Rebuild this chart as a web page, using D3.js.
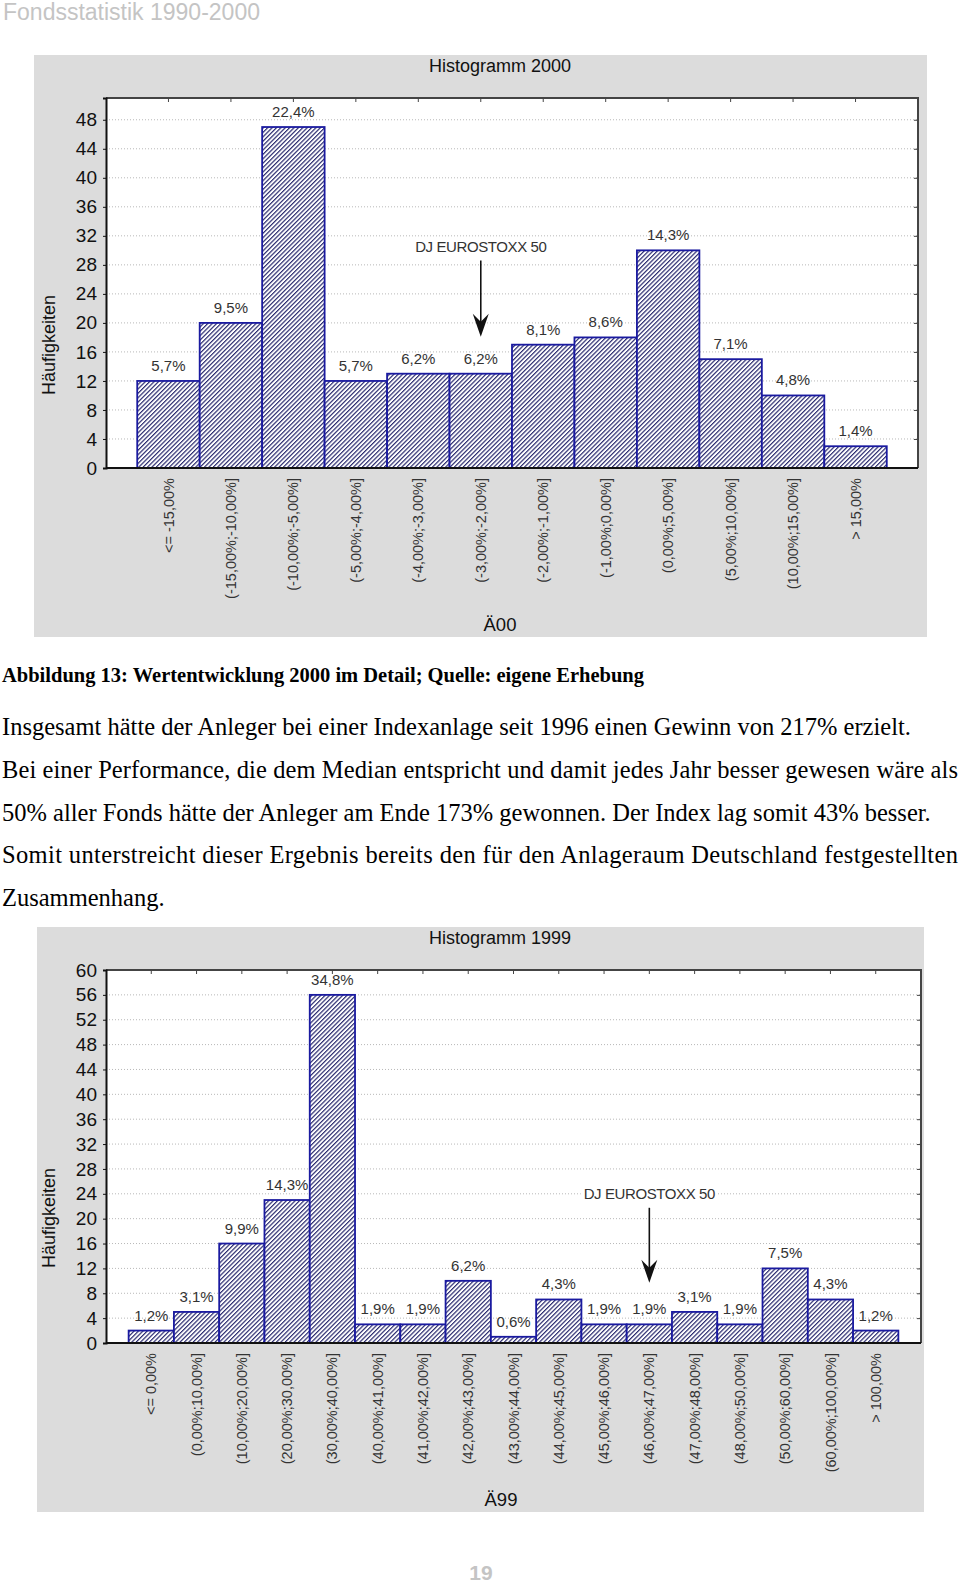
<!DOCTYPE html>
<html>
<head>
<meta charset="utf-8">
<script src="https://cdn.jsdelivr.net/npm/d3@7"></script>
<style>
  body { margin: 0; background: #fff; }
  svg { display: block; }
</style>
</head>
<body>
<div id="page"></div>
<script>
// ---- data ----
const bins2000 = ["<= -15,00%", "(-15,00%;-10,00%]", "(-10,00%;-5,00%]", "(-5,00%;-4,00%]",
  "(-4,00%;-3,00%]", "(-3,00%;-2,00%]", "(-2,00%;-1,00%]", "(-1,00%;0,00%]",
  "(0,00%;5,00%]", "(5,00%;10,00%]", "(10,00%;15,00%]", "> 15,00%"];
const counts2000 = [12, 20, 47, 12, 13, 13, 17, 18, 30, 15, 10, 3];
const shares2000 = ["5,7%", "9,5%", "22,4%", "5,7%", "6,2%", "6,2%", "8,1%", "8,6%", "14,3%", "7,1%", "4,8%", "1,4%"];
const yTicks2000 = [0, 4, 8, 12, 16, 20, 24, 28, 32, 36, 40, 44, 48];

const bins1999 = ["<= 0,00%", "(0,00%;10,00%]", "(10,00%;20,00%]", "(20,00%;30,00%]",
  "(30,00%;40,00%]", "(40,00%;41,00%]", "(41,00%;42,00%]", "(42,00%;43,00%]",
  "(43,00%;44,00%]", "(44,00%;45,00%]", "(45,00%;46,00%]", "(46,00%;47,00%]",
  "(47,00%;48,00%]", "(48,00%;50,00%]", "(50,00%;60,00%]", "(60,00%;100,00%]", "> 100,00%"];
const counts1999 = [2, 5, 16, 23, 56, 3, 3, 10, 1, 7, 3, 3, 5, 3, 12, 7, 2];
const shares1999 = ["1,2%", "3,1%", "9,9%", "14,3%", "34,8%", "1,9%", "1,9%", "6,2%", "0,6%",
  "4,3%", "1,9%", "1,9%", "3,1%", "1,9%", "7,5%", "4,3%", "1,2%"];
const yTicks1999 = [0, 4, 8, 12, 16, 20, 24, 28, 32, 36, 40, 44, 48, 52, 56, 60];

const caption = "Abbildung 13: Wertentwicklung 2000 im Detail; Quelle: eigene Erhebung";
const bodyLines = [
  "Insgesamt hätte der Anleger bei einer Indexanlage seit 1996 einen Gewinn von 217% erzielt.",
  "Bei einer Performance, die dem Median entspricht und damit jedes Jahr besser gewesen wäre als",
  "50% aller Fonds hätte der Anleger am Ende 173% gewonnen. Der Index lag somit 43% besser.",
  "Somit unterstreicht dieser Ergebnis bereits den für den Anlageraum Deutschland festgestellten",
  "Zusammenhang."
];
const justified = [false, true, false, true, false];

const SANS = "'Liberation Sans', Arial, sans-serif";
const SERIF = "'Liberation Serif', 'Times New Roman', serif";

const PAGE_W = 960, PAGE_H = 1587;
const svg = d3.select("#page").append("svg")
  .attr("width", PAGE_W)
  .attr("height", PAGE_H);

svg.append("rect").attr("width", PAGE_W).attr("height", PAGE_H).attr("fill", "#fff");

// hatch fill for the bars
const pat = svg.append("defs").append("pattern")
  .attr("id", "hatch")
  .attr("patternUnits", "userSpaceOnUse")
  .attr("width", 3.1).attr("height", 3.1)
  .attr("patternTransform", "rotate(45)");
pat.append("rect").attr("width", 3.1).attr("height", 3.1).attr("fill", "#fff");
pat.append("line")
  .attr("x1", 0.6).attr("y1", 0).attr("x2", 0.6).attr("y2", 3.1)
  .attr("stroke", "#2c2c70").attr("stroke-width", 1.2);

// page header
svg.append("text")
  .attr("x", 3).attr("y", 20)
  .attr("font-family", SANS).attr("font-size", 23)
  .attr("fill", "#c4c4c4")
  .text("Fondsstatistik 1990-2000");

function drawHistogram(cfg) {
  const g = svg.append("g");
  const p = cfg.panel;

  g.append("rect")
    .attr("x", p.x).attr("y", p.y).attr("width", p.w).attr("height", p.h)
    .attr("fill", "#dcdcdc");

  const x = d3.scaleBand()
    .domain(d3.range(cfg.counts.length))
    .range([cfg.left, cfg.right])
    .paddingInner(0).paddingOuter(0.5);
  const y = d3.scaleLinear()
    .domain([0, cfg.yMax])
    .range([cfg.zero, cfg.top]);

  g.append("rect")
    .attr("x", cfg.left).attr("y", cfg.top)
    .attr("width", cfg.right - cfg.left).attr("height", cfg.zero - cfg.top)
    .attr("fill", "#fff");

  // dotted grid
  g.append("g")
    .selectAll("line")
    .data(cfg.yTicks.filter(d => d > 0))
    .join("line")
    .attr("x1", cfg.left).attr("x2", cfg.right)
    .attr("y1", d => y(d)).attr("y2", d => y(d))
    .attr("stroke", "#b8b8b8").attr("stroke-width", 1)
    .attr("stroke-dasharray", "1,2");

  // title
  g.append("text")
    .attr("x", cfg.titleX).attr("y", cfg.titleY)
    .attr("text-anchor", "middle")
    .attr("font-family", SANS).attr("font-size", 18)
    .attr("fill", "#111")
    .text(cfg.title);

  // annotation (DJ EUROSTOXX 50 + arrow)
  const nx = x(cfg.note.bin) + x.bandwidth() / 2;
  const noteText = g.append("text")
    .attr("x", nx).attr("y", y(cfg.note.textAt))
    .attr("text-anchor", "middle")
    .attr("font-family", SANS).attr("font-size", 15)
    .attr("letter-spacing", -0.4)
    .attr("fill", "#333")
    .text("DJ EUROSTOXX 50");
  const bb = noteText.node().getBBox();
  g.insert("rect", () => noteText.node())
    .attr("x", bb.x - 3).attr("y", bb.y).attr("width", bb.width + 6).attr("height", bb.height)
    .attr("fill", "#fff");
  const tipY = y(cfg.note.to);
  g.append("line")
    .attr("x1", nx).attr("x2", nx)
    .attr("y1", y(cfg.note.from)).attr("y2", tipY - 6)
    .attr("stroke", "#111").attr("stroke-width", 1.6);
  g.append("path")
    .attr("d", `M${nx},${tipY} L${nx - 8},${tipY - 23} L${nx},${tipY - 15} L${nx + 8},${tipY - 23} Z`)
    .attr("fill", "#111");

  // bars
  g.append("g")
    .selectAll("rect")
    .data(cfg.counts)
    .join("rect")
    .attr("x", (d, i) => x(i))
    .attr("y", d => y(d))
    .attr("width", x.bandwidth())
    .attr("height", d => y(0) - y(d))
    .attr("fill", "url(#hatch)")
    .attr("stroke", "#1a1aa0")
    .attr("stroke-width", 1.8);

  // share labels above the bars
  g.append("g")
    .selectAll("text")
    .data(cfg.counts)
    .join("text")
    .attr("x", (d, i) => x(i) + x.bandwidth() / 2)
    .attr("y", d => y(d) - 10)
    .attr("text-anchor", "middle")
    .attr("font-family", SANS).attr("font-size", 15)
    .attr("fill", "#333")
    .text((d, i) => cfg.shares[i]);

  // frame: top and right
  g.append("path")
    .attr("d", `M${cfg.left},${cfg.top} H${cfg.right} V${cfg.zero}`)
    .attr("fill", "none").attr("stroke", "#444").attr("stroke-width", 2);

  // top ticks (inward) and right ticks (inward)
  g.append("g")
    .attr("transform", `translate(0,${cfg.top})`)
    .call(d3.axisBottom(x).tickSize(4).tickFormat(""))
    .call(a => a.select(".domain").remove())
    .call(a => a.selectAll("line").attr("stroke", "#444"));
  g.append("g")
    .attr("transform", `translate(${cfg.right},0)`)
    .call(d3.axisLeft(y).tickValues(cfg.yTicks.filter(d => d > 0)).tickSize(4).tickFormat(""))
    .call(a => a.select(".domain").remove())
    .call(a => a.selectAll("line").attr("stroke", "#444"));

  // left axis
  g.append("g")
    .attr("transform", `translate(${cfg.left},0)`)
    .call(d3.axisLeft(y).tickValues(cfg.yTicks).tickSize(3).tickPadding(6))
    .call(a => a.select(".domain").attr("stroke", "#111").attr("stroke-width", 2))
    .call(a => a.selectAll("line").attr("stroke", "#111"))
    .call(a => a.selectAll("text")
      .attr("font-family", SANS).attr("font-size", 19).attr("fill", "#111"));

  // bottom axis with rotated category labels
  g.append("g")
    .attr("transform", `translate(0,${cfg.zero})`)
    .call(d3.axisBottom(x).tickSize(0).tickFormat(i => cfg.bins[i]))
    .call(a => a.select(".domain").attr("stroke", "#111").attr("stroke-width", 2)
      .attr("d", `M${cfg.left},0H${cfg.right}`))
    .call(a => a.selectAll("text")
      .attr("font-family", SANS).attr("font-size", 14.5).attr("fill", "#333")
      .attr("text-anchor", "end")
      .attr("transform", "rotate(-90)")
      .attr("x", -(cfg.labelTop - cfg.zero))
      .attr("y", 0).attr("dy", "0.35em"));

  // axis titles
  g.append("text")
    .attr("transform", `translate(${cfg.yLabelX},${cfg.yLabelY}) rotate(-90)`)
    .attr("text-anchor", "middle").attr("dy", "0.35em")
    .attr("font-family", SANS).attr("font-size", 18)
    .attr("fill", "#111")
    .text("Häufigkeiten");
  g.append("text")
    .attr("x", cfg.xTitleX).attr("y", cfg.xTitleY)
    .attr("text-anchor", "middle")
    .attr("font-family", SANS).attr("font-size", 18.5)
    .attr("fill", "#111")
    .text(cfg.xTitle);
}

drawHistogram({
  title: "Histogramm 2000", xTitle: "Ä00",
  bins: bins2000, counts: counts2000, shares: shares2000,
  yTicks: yTicks2000, yMax: 51,
  panel: {x: 34, y: 55, w: 893, h: 582},
  left: 106, right: 918, top: 98, zero: 468,
  titleX: 500, titleY: 72,
  labelTop: 478,
  yLabelX: 49, yLabelY: 345,
  xTitleX: 500, xTitleY: 631,
  note: {bin: 5, textAt: 29.8, from: 28.6, to: 18.1}
});

drawHistogram({
  title: "Histogramm 1999", xTitle: "Ä99",
  bins: bins1999, counts: counts1999, shares: shares1999,
  yTicks: yTicks1999, yMax: 60,
  panel: {x: 37, y: 927, w: 887, h: 585},
  left: 106, right: 921, top: 970, zero: 1343,
  titleX: 500, titleY: 944,
  labelTop: 1353,
  yLabelX: 49, yLabelY: 1218,
  xTitleX: 501, xTitleY: 1506,
  note: {bin: 11, textAt: 23.2, from: 21.75, to: 9.7}
});

// caption and body text
svg.append("text")
  .attr("x", 2).attr("y", 682)
  .attr("font-family", SERIF).attr("font-size", 20.5).attr("font-weight", "bold")
  .attr("fill", "#000")
  .text(caption);

svg.append("g")
  .selectAll("text")
  .data(bodyLines)
  .join("text")
  .attr("x", 2)
  .attr("y", (d, i) => 735 + i * 42.8)
  .attr("font-family", SERIF).attr("font-size", 24.5)
  .attr("fill", "#000")
  .each(function(d, i) {
    if (justified[i]) d3.select(this).attr("textLength", 956).attr("lengthAdjust", "spacing");
  })
  .text(d => d);

// page number
svg.append("text")
  .attr("x", 481).attr("y", 1580)
  .attr("text-anchor", "middle")
  .attr("font-family", SANS).attr("font-size", 21).attr("font-weight", "bold")
  .attr("fill", "#c4c4c4")
  .text("19");
</script>
</body>
</html>
